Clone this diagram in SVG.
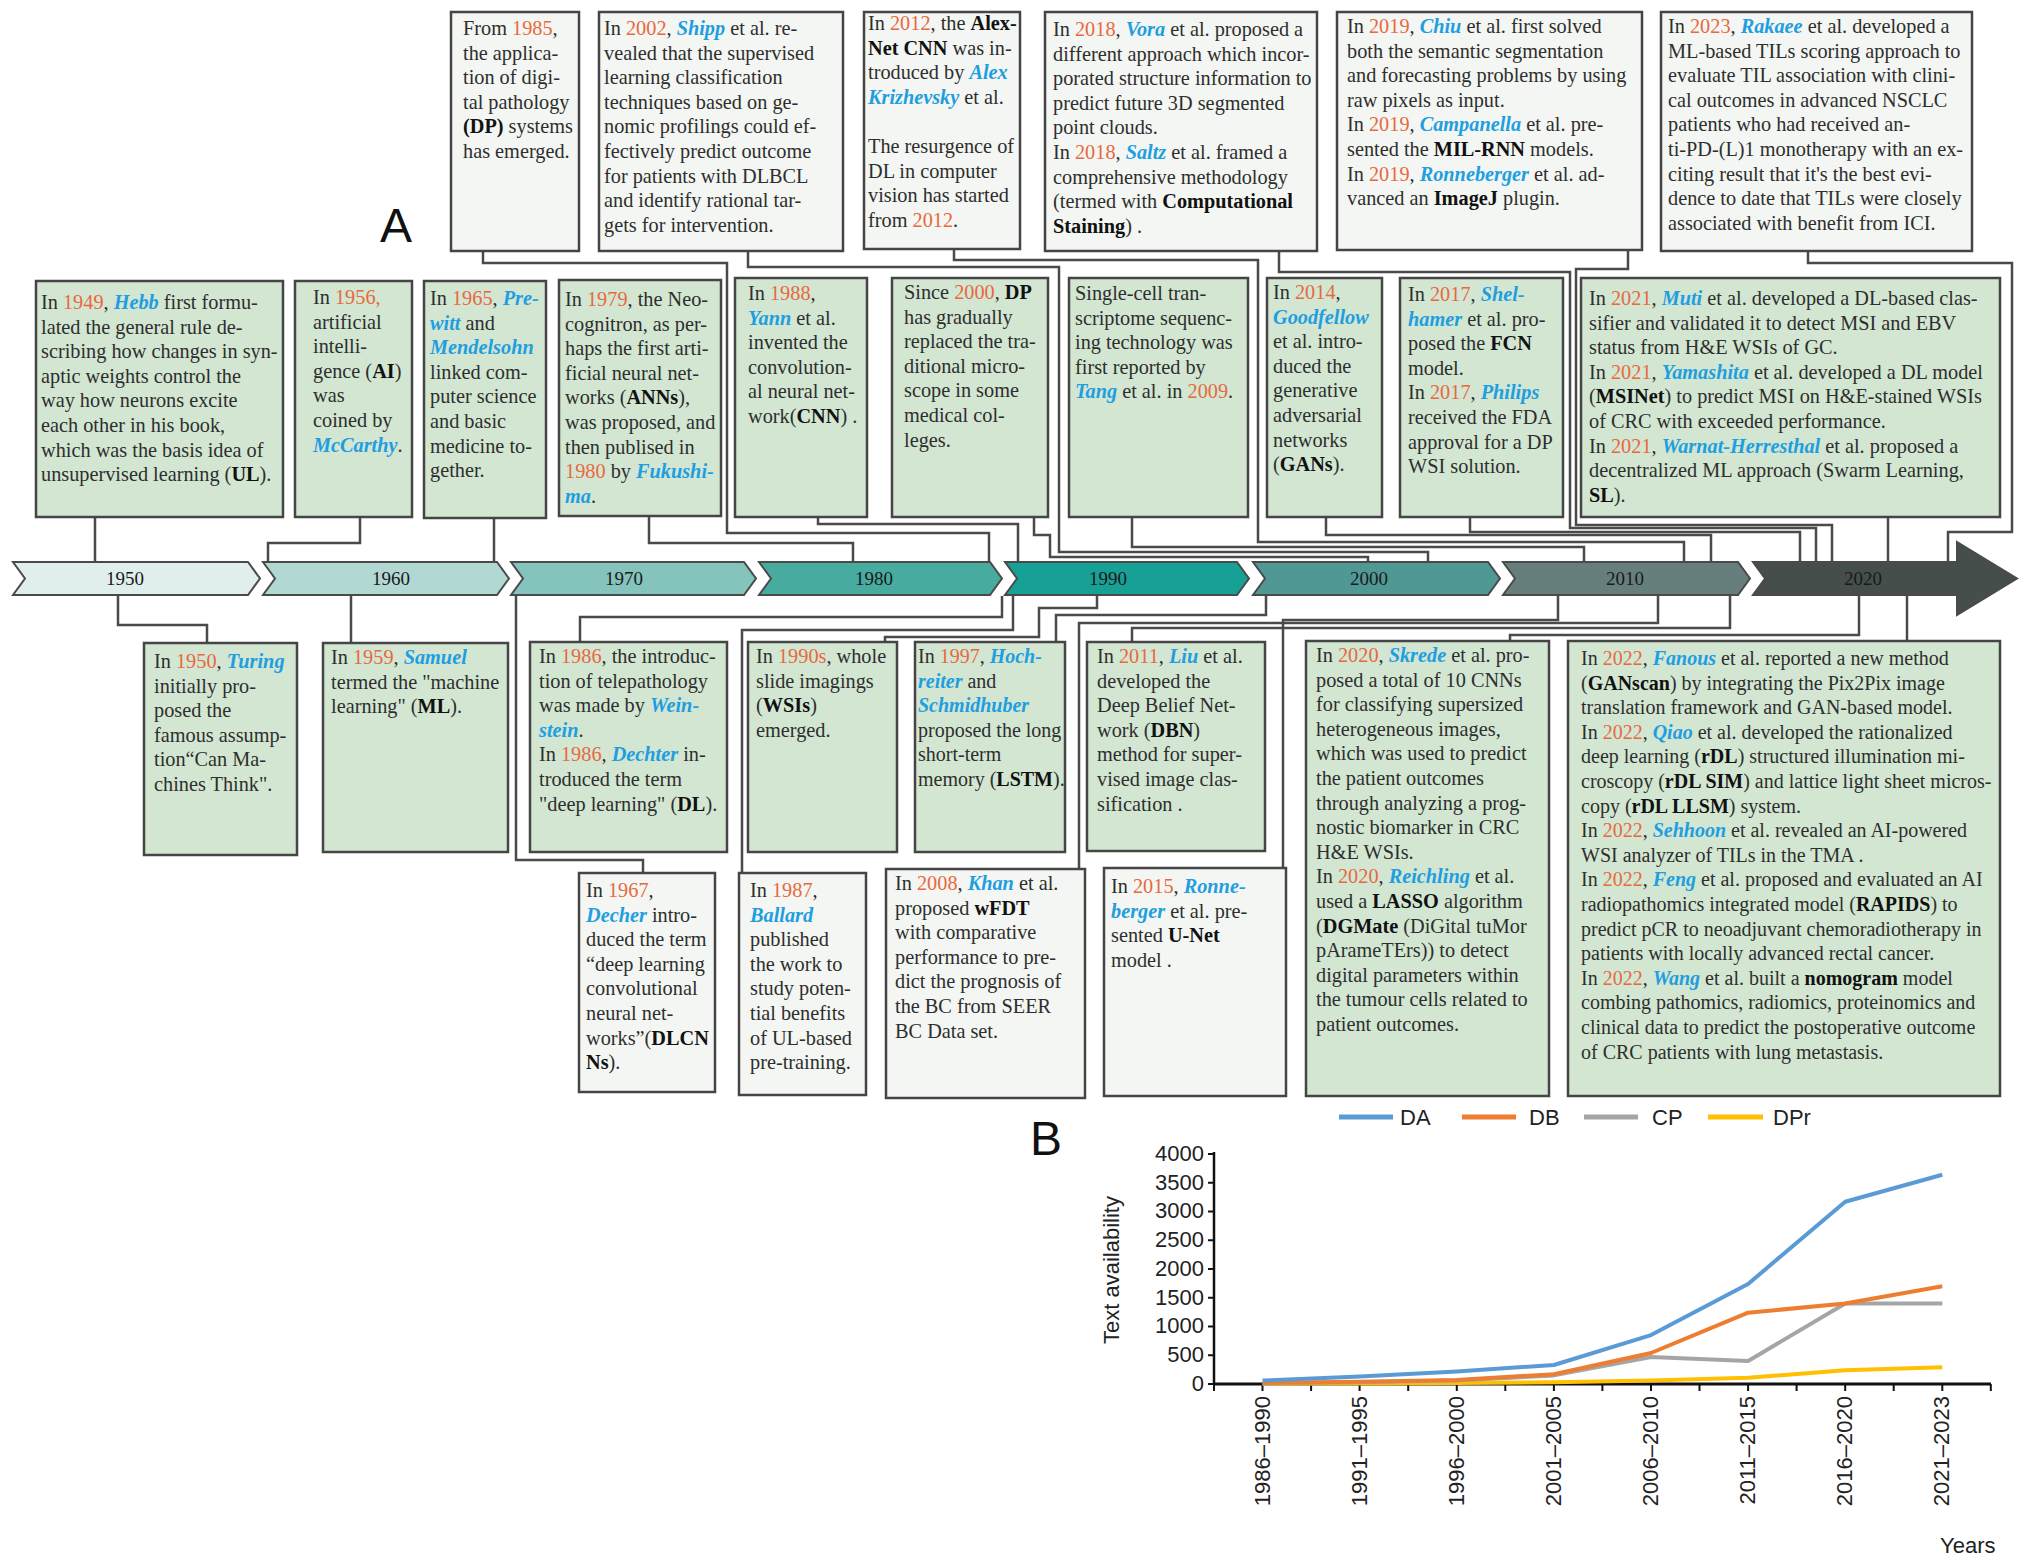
<svg xmlns="http://www.w3.org/2000/svg" width="2032" height="1565" viewBox="0 0 2032 1565">
<style>
.bx1{fill:#f3f6f2;stroke:#454545;stroke-width:2.5}
.bx2{fill:#d2e6d2;stroke:#454545;stroke-width:2.5}
.t{font-family:"Liberation Serif","Times New Roman",serif;font-size:20.3px;fill:#2e2e2e}
.s20{font-size:20px}
.y{fill:#e8693f}
.n{fill:#1f9ee0;font-style:italic;font-weight:bold}
.b{font-weight:bold;fill:#111}
.cn{fill:none;stroke:#4a4a4a;stroke-width:2.5}
.chev{stroke:#4a4a4a;stroke-width:2}
.yr{font-family:"Liberation Serif","Times New Roman",serif;font-size:19px;fill:#1a1a1a;text-anchor:middle}
.ax{font-family:"Liberation Sans",Arial,sans-serif;font-size:22px;fill:#222}
.big{font-family:"Liberation Sans",Arial,sans-serif;font-size:48px;fill:#111}
.ln{fill:none;stroke-width:4;stroke-linejoin:round}
</style>
<rect width="2032" height="1565" fill="#ffffff"/>
<text class="big" x="380" y="242">A</text>

<g id="connectors">
<path class="cn" d="M483 251V263H727V533H989V561"/>
<path class="cn" d="M748 251V267H1059V552H1428V561"/>
<path class="cn" d="M954 249V260H1258V542H1684V561"/>
<path class="cn" d="M1279 251V272H1570V528H1816V561"/>
<path class="cn" d="M1628 250V269H1576V525H1832V561"/>
<path class="cn" d="M1808 251V263H2012V532H1948V561"/>
<path class="cn" d="M95 517V561"/>
<path class="cn" d="M360 517V543H268V561"/>
<path class="cn" d="M494 518V561"/>
<path class="cn" d="M649 516V543H853V561"/>
<path class="cn" d="M818 517V524H1018V561"/>
<path class="cn" d="M1034 517V535H1050V557H1368V561"/>
<path class="cn" d="M1132 517V547H1584V561"/>
<path class="cn" d="M1326 517V535H1711V561"/>
<path class="cn" d="M1470 517V532H1800V561"/>
<path class="cn" d="M1888 517V561"/>
<path class="cn" d="M118 596V625H207V643"/>
<path class="cn" d="M351 596V643"/>
<path class="cn" d="M516 596V860H643V873"/>
<path class="cn" d="M1002 596V617H580V642"/>
<path class="cn" d="M1013 596V630H742V873"/>
<path class="cn" d="M1097 596V608H1039V637H885V642"/>
<path class="cn" d="M1266 596V615H1056V642"/>
<path class="cn" d="M1658 596V623H1079V869"/>
<path class="cn" d="M1730 596V628H1132V642"/>
<path class="cn" d="M1558 596V620H1283V868"/>
<path class="cn" d="M1859 596V635H1510V641"/>
<path class="cn" d="M1907 596V641"/>
</g>

<g id="timeline">
<polygon class="chev" fill="#e0efee" points="13,562 248,562 260,578.5 248,595 13,595 25,578.5"/>
<polygon class="chev" fill="#b1d8d3" points="263,562 497,562 509,578.5 497,595 263,595 275,578.5"/>
<polygon class="chev" fill="#84c4bc" points="511,562 744,562 756,578.5 744,595 511,595 523,578.5"/>
<polygon class="chev" fill="#47aba0" points="759,562 990,562 1002,578.5 990,595 759,595 771,578.5"/>
<polygon class="chev" fill="#17a096" points="1005,562 1237,562 1249,578.5 1237,595 1005,595 1017,578.5"/>
<polygon class="chev" fill="#4f9894" points="1253,562 1488,562 1500,578.5 1488,595 1253,595 1265,578.5"/>
<polygon class="chev" fill="#677f7c" points="1503,562 1738,562 1750,578.5 1738,595 1503,595 1515,578.5"/>
<polygon class="chev" fill="#454e4b" points="1753,562 1957,562 1957,542 2017,578.5 1957,615 1957,595 1753,595 1765,578.5"/>
<text class="yr" x="125" y="585">1950</text>
<text class="yr" x="391" y="585">1960</text>
<text class="yr" x="624" y="585">1970</text>
<text class="yr" x="874" y="585">1980</text>
<text class="yr" x="1108" y="585">1990</text>
<text class="yr" x="1369" y="585">2000</text>
<text class="yr" x="1625" y="585">2010</text>
<text class="yr" x="1863" y="585">2020</text>
</g>

<g id="n1985"><rect class="bx1" x="451" y="12" width="128" height="239"/>
<text class="t" y="35"><tspan x="463">From <tspan class="y">1985</tspan>,</tspan><tspan x="463" dy="24.6">the applica-</tspan><tspan x="463" dy="24.6">tion of digi-</tspan><tspan x="463" dy="24.6">tal pathology</tspan><tspan x="463" dy="24.6"><tspan class="b">(DP)</tspan> systems</tspan><tspan x="463" dy="24.6">has emerged.</tspan></text></g>

<g id="n2002"><rect class="bx1" x="599" y="12" width="244" height="239"/>
<text class="t" y="35"><tspan x="604">In <tspan class="y">2002</tspan>, <tspan class="n">Shipp</tspan> et al. re-</tspan><tspan x="604" dy="24.6">vealed that the supervised</tspan><tspan x="604" dy="24.6">learning classification</tspan><tspan x="604" dy="24.6">techniques based on ge-</tspan><tspan x="604" dy="24.6">nomic profilings could ef-</tspan><tspan x="604" dy="24.6">fectively predict outcome</tspan><tspan x="604" dy="24.6">for patients with DLBCL</tspan><tspan x="604" dy="24.6">and identify rational tar-</tspan><tspan x="604" dy="24.6">gets for intervention.</tspan></text></g>

<g id="n2012"><rect class="bx1" x="864" y="12" width="156" height="237"/>
<text class="t" y="30"><tspan x="868">In <tspan class="y">2012</tspan>, the <tspan class="b">Alex-</tspan></tspan><tspan x="868" dy="24.6"><tspan class="b">Net CNN</tspan> was in-</tspan><tspan x="868" dy="24.6">troduced by <tspan class="n">Alex</tspan></tspan><tspan x="868" dy="24.6"><tspan class="n">Krizhevsky</tspan>  et al.</tspan><tspan x="868" dy="49.2">The resurgence of</tspan><tspan x="868" dy="24.6">DL in computer</tspan><tspan x="868" dy="24.6">vision has started</tspan><tspan x="868" dy="24.6">from <tspan class="y">2012</tspan>.</tspan></text></g>

<g id="n2018"><rect class="bx1" x="1045" y="12" width="272" height="239"/>
<text class="t" y="36"><tspan x="1053">In <tspan class="y">2018</tspan>, <tspan class="n">Vora</tspan> et al. proposed a</tspan><tspan x="1053" dy="24.6">different approach which incor-</tspan><tspan x="1053" dy="24.6">porated structure information to</tspan><tspan x="1053" dy="24.6">predict future 3D segmented</tspan><tspan x="1053" dy="24.6">point clouds.</tspan><tspan x="1053" dy="24.6">In <tspan class="y">2018</tspan>, <tspan class="n">Saltz</tspan> et al. framed a</tspan><tspan x="1053" dy="24.6">comprehensive methodology</tspan><tspan x="1053" dy="24.6">(termed with <tspan class="b">Computational</tspan></tspan><tspan x="1053" dy="24.6"><tspan class="b">Staining</tspan>) .</tspan></text></g>

<g id="n2019"><rect class="bx1" x="1337" y="12" width="305" height="238"/>
<text class="t" y="33"><tspan x="1347">In <tspan class="y">2019</tspan>, <tspan class="n">Chiu</tspan> et al. first solved</tspan><tspan x="1347" dy="24.6">both the semantic segmentation</tspan><tspan x="1347" dy="24.6">and forecasting problems by using</tspan><tspan x="1347" dy="24.6">raw pixels as input.</tspan><tspan x="1347" dy="24.6">In <tspan class="y">2019</tspan>, <tspan class="n">Campanella</tspan> et al. pre-</tspan><tspan x="1347" dy="24.6">sented the <tspan class="b">MIL-RNN</tspan> models.</tspan><tspan x="1347" dy="24.6">In <tspan class="y">2019</tspan>, <tspan class="n">Ronneberger</tspan> et al. ad-</tspan><tspan x="1347" dy="24.6">vanced an <tspan class="b">ImageJ</tspan> plugin.</tspan></text></g>

<g id="n2023"><rect class="bx1" x="1661" y="12" width="311" height="239"/>
<text class="t" y="33"><tspan x="1668">In <tspan class="y">2023</tspan>, <tspan class="n">Rakaee</tspan> et al. developed a</tspan><tspan x="1668" dy="24.6">ML-based TILs scoring approach to</tspan><tspan x="1668" dy="24.6">evaluate TIL association with clini-</tspan><tspan x="1668" dy="24.6">cal outcomes in advanced NSCLC</tspan><tspan x="1668" dy="24.6">patients who had received an-</tspan><tspan x="1668" dy="24.6">ti-PD-(L)1 monotherapy with an ex-</tspan><tspan x="1668" dy="24.6">citing result that it's the best evi-</tspan><tspan x="1668" dy="24.6">dence to date that TILs were closely</tspan><tspan x="1668" dy="24.6">associated with benefit from ICI.</tspan></text></g>

<g id="n1949"><rect class="bx2" x="36" y="281" width="247" height="236"/>
<text class="t" y="309"><tspan x="41">In <tspan class="y">1949</tspan>,  <tspan class="n">Hebb</tspan> first formu-</tspan><tspan x="41" dy="24.6">lated the general rule de-</tspan><tspan x="41" dy="24.6">scribing how changes in syn-</tspan><tspan x="41" dy="24.6">aptic weights control the</tspan><tspan x="41" dy="24.6">way how neurons excite</tspan><tspan x="41" dy="24.6">each other in his book,</tspan><tspan x="41" dy="24.6">which was the basis idea of</tspan><tspan x="41" dy="24.6">unsupervised learning (<tspan class="b">UL</tspan>).</tspan></text></g>

<g id="n1956"><rect class="bx2" x="295" y="281" width="117" height="236"/>
<text class="t" y="304"><tspan x="313">In <tspan class="y">1956,</tspan></tspan><tspan x="313" dy="24.6">artificial</tspan><tspan x="313" dy="24.6">intelli-</tspan><tspan x="313" dy="24.6">gence (<tspan class="b">AI</tspan>)</tspan><tspan x="313" dy="24.6">was</tspan><tspan x="313" dy="24.6">coined by</tspan><tspan x="313" dy="24.6"><tspan class="n">McCarthy</tspan>.</tspan></text></g>

<g id="n1965"><rect class="bx2" x="424" y="281" width="122" height="237"/>
<text class="t" y="305"><tspan x="430">In <tspan class="y">1965</tspan>, <tspan class="n">Pre-</tspan></tspan><tspan x="430" dy="24.6"><tspan class="n">witt</tspan> and</tspan><tspan x="430" dy="24.6"><tspan class="n">Mendelsohn</tspan></tspan><tspan x="430" dy="24.6">linked com-</tspan><tspan x="430" dy="24.6">puter science</tspan><tspan x="430" dy="24.6">and basic</tspan><tspan x="430" dy="24.6">medicine to-</tspan><tspan x="430" dy="24.6">gether.</tspan></text></g>

<g id="n1979"><rect class="bx2" x="559" y="280" width="162" height="236"/>
<text class="t" y="306"><tspan x="565">In <tspan class="y">1979</tspan>, the Neo-</tspan><tspan x="565" dy="24.6">cognitron, as per-</tspan><tspan x="565" dy="24.6">haps the first arti-</tspan><tspan x="565" dy="24.6">ficial neural net-</tspan><tspan x="565" dy="24.6">works (<tspan class="b">ANNs</tspan>),</tspan><tspan x="565" dy="24.6">was proposed, and</tspan><tspan x="565" dy="24.6">then publised in</tspan><tspan x="565" dy="24.6"><tspan class="y">1980</tspan> by <tspan class="n">Fukushi-</tspan></tspan><tspan x="565" dy="24.6"><tspan class="n">ma</tspan>.</tspan></text></g>

<g id="n1988"><rect class="bx2" x="735" y="278" width="132" height="239"/>
<text class="t" y="300"><tspan x="748">In <tspan class="y">1988</tspan>,</tspan><tspan x="748" dy="24.6"><tspan class="n">Yann</tspan>  et al.</tspan><tspan x="748" dy="24.6">invented the</tspan><tspan x="748" dy="24.6">convolution-</tspan><tspan x="748" dy="24.6">al neural net-</tspan><tspan x="748" dy="24.6">work(<tspan class="b">CNN</tspan>) .</tspan></text></g>

<g id="n2000"><rect class="bx2" x="892" y="278" width="156" height="239"/>
<text class="t" y="299"><tspan x="904">Since <tspan class="y">2000</tspan>, <tspan class="b">DP</tspan></tspan><tspan x="904" dy="24.6">has gradually</tspan><tspan x="904" dy="24.6">replaced the tra-</tspan><tspan x="904" dy="24.6">ditional micro-</tspan><tspan x="904" dy="24.6">scope in some</tspan><tspan x="904" dy="24.6">medical col-</tspan><tspan x="904" dy="24.6">leges.</tspan></text></g>

<g id="n2009"><rect class="bx2" x="1069" y="278" width="179" height="239"/>
<text class="t" y="300"><tspan x="1075">Single-cell tran-</tspan><tspan x="1075" dy="24.6">scriptome sequenc-</tspan><tspan x="1075" dy="24.6">ing technology was</tspan><tspan x="1075" dy="24.6">first reported by</tspan><tspan x="1075" dy="24.6"><tspan class="n">Tang</tspan> et al. in <tspan class="y">2009</tspan>.</tspan></text></g>

<g id="n2014"><rect class="bx2" x="1267" y="278" width="115" height="239"/>
<text class="t" y="299"><tspan x="1273">In <tspan class="y">2014</tspan>,</tspan><tspan x="1273" dy="24.6"><tspan class="n">Goodfellow</tspan></tspan><tspan x="1273" dy="24.6">et al. intro-</tspan><tspan x="1273" dy="24.6">duced the</tspan><tspan x="1273" dy="24.6">generative</tspan><tspan x="1273" dy="24.6">adversarial</tspan><tspan x="1273" dy="24.6">networks</tspan><tspan x="1273" dy="24.6">(<tspan class="b">GANs</tspan>).</tspan></text></g>

<g id="n2017"><rect class="bx2" x="1400" y="278" width="163" height="239"/>
<text class="t" y="301"><tspan x="1408">In <tspan class="y">2017</tspan>, <tspan class="n">Shel-</tspan></tspan><tspan x="1408" dy="24.6"><tspan class="n">hamer</tspan>  et al. pro-</tspan><tspan x="1408" dy="24.6">posed the <tspan class="b">FCN</tspan></tspan><tspan x="1408" dy="24.6">model.</tspan><tspan x="1408" dy="24.6">In <tspan class="y">2017</tspan>, <tspan class="n">Philips</tspan></tspan><tspan x="1408" dy="24.6">received the FDA</tspan><tspan x="1408" dy="24.6">approval for a DP</tspan><tspan x="1408" dy="24.6">WSI solution.</tspan></text></g>

<g id="n2021"><rect class="bx2" x="1581" y="278" width="419" height="239"/>
<text class="t" y="305"><tspan x="1589">In <tspan class="y">2021</tspan>, <tspan class="n">Muti</tspan> et al. developed a DL-based clas-</tspan><tspan x="1589" dy="24.6">sifier and validated it to detect MSI and EBV</tspan><tspan x="1589" dy="24.6">status from H&amp;E WSIs of GC.</tspan><tspan x="1589" dy="24.6">In <tspan class="y">2021</tspan>, <tspan class="n">Yamashita</tspan> et al. developed a DL model</tspan><tspan x="1589" dy="24.6">(<tspan class="b">MSINet</tspan>) to predict MSI on H&amp;E-stained WSIs</tspan><tspan x="1589" dy="24.6">of CRC with exceeded performance.</tspan><tspan x="1589" dy="24.6">In <tspan class="y">2021</tspan>, <tspan class="n">Warnat-Herresthal</tspan> et al. proposed a</tspan><tspan x="1589" dy="24.6">decentralized ML approach (Swarm Learning,</tspan><tspan x="1589" dy="24.6"><tspan class="b">SL</tspan>).</tspan></text></g>

<g id="n1950"><rect class="bx2" x="144" y="643" width="153" height="212"/>
<text class="t" y="668"><tspan x="154">In <tspan class="y">1950</tspan>, <tspan class="n">Turing</tspan></tspan><tspan x="154" dy="24.6">initially pro-</tspan><tspan x="154" dy="24.6">posed the</tspan><tspan x="154" dy="24.6">famous assump-</tspan><tspan x="154" dy="24.6">tion“Can Ma-</tspan><tspan x="154" dy="24.6">chines Think".</tspan></text></g>

<g id="n1959"><rect class="bx2" x="323" y="643" width="185" height="209"/>
<text class="t" y="664"><tspan x="331">In <tspan class="y">1959</tspan>, <tspan class="n">Samuel</tspan></tspan><tspan x="331" dy="24.6">termed the "machine</tspan><tspan x="331" dy="24.6">learning" (<tspan class="b">ML</tspan>).</tspan></text></g>

<g id="n1986"><rect class="bx2" x="530" y="642" width="197" height="210"/>
<text class="t" y="663"><tspan x="539">In <tspan class="y">1986</tspan>, the introduc-</tspan><tspan x="539" dy="24.6">tion of telepathology</tspan><tspan x="539" dy="24.6">was made by <tspan class="n">Wein-</tspan></tspan><tspan x="539" dy="24.6"><tspan class="n">stein</tspan>.</tspan><tspan x="539" dy="24.6">In <tspan class="y">1986</tspan>, <tspan class="n">Dechter</tspan> in-</tspan><tspan x="539" dy="24.6">troduced the term</tspan><tspan x="539" dy="24.6">"deep learning" (<tspan class="b">DL</tspan>).</tspan></text></g>

<g id="n1990s"><rect class="bx2" x="748" y="642" width="149" height="210"/>
<text class="t" y="663"><tspan x="756">In <tspan class="y">1990s</tspan>, whole</tspan><tspan x="756" dy="24.6">slide imagings</tspan><tspan x="756" dy="24.6">(<tspan class="b">WSIs</tspan>)</tspan><tspan x="756" dy="24.6">emerged.</tspan></text></g>

<g id="n1997"><rect class="bx2" x="915" y="642" width="150" height="210"/>
<text class="t s20" y="663"><tspan x="918">In <tspan class="y">1997</tspan>, <tspan class="n">Hoch-</tspan></tspan><tspan x="918" dy="24.6"><tspan class="n">reiter</tspan> and</tspan><tspan x="918" dy="24.6"><tspan class="n">Schmidhuber</tspan></tspan><tspan x="918" dy="24.6">proposed the long</tspan><tspan x="918" dy="24.6">short-term</tspan><tspan x="918" dy="24.6">memory (<tspan class="b">LSTM</tspan>).</tspan></text></g>

<g id="n2011"><rect class="bx2" x="1087" y="642" width="178" height="209"/>
<text class="t" y="663"><tspan x="1097">In <tspan class="y">2011</tspan>, <tspan class="n">Liu</tspan> et al.</tspan><tspan x="1097" dy="24.6">developed the</tspan><tspan x="1097" dy="24.6">Deep Belief Net-</tspan><tspan x="1097" dy="24.6">work (<tspan class="b">DBN</tspan>)</tspan><tspan x="1097" dy="24.6">method for super-</tspan><tspan x="1097" dy="24.6">vised image clas-</tspan><tspan x="1097" dy="24.6">sification .</tspan></text></g>

<g id="n2020"><rect class="bx2" x="1306" y="641" width="243" height="455"/>
<text class="t" y="662"><tspan x="1316">In <tspan class="y">2020</tspan>, <tspan class="n">Skrede</tspan> et al. pro-</tspan><tspan x="1316" dy="24.6">posed a total of 10 CNNs</tspan><tspan x="1316" dy="24.6">for classifying supersized</tspan><tspan x="1316" dy="24.6">heterogeneous images,</tspan><tspan x="1316" dy="24.6">which was used to predict</tspan><tspan x="1316" dy="24.6">the patient outcomes</tspan><tspan x="1316" dy="24.6">through analyzing a prog-</tspan><tspan x="1316" dy="24.6">nostic biomarker in CRC</tspan><tspan x="1316" dy="24.6">H&amp;E WSIs.</tspan><tspan x="1316" dy="24.6">In <tspan class="y">2020</tspan>, <tspan class="n">Reichling</tspan> et al.</tspan><tspan x="1316" dy="24.6">used a <tspan class="b">LASSO</tspan> algorithm</tspan><tspan x="1316" dy="24.6">(<tspan class="b">DGMate</tspan> (DiGital tuMor</tspan><tspan x="1316" dy="24.6">pArameTErs)) to detect</tspan><tspan x="1316" dy="24.6">digital parameters within</tspan><tspan x="1316" dy="24.6">the tumour cells related to</tspan><tspan x="1316" dy="24.6">patient outcomes.</tspan></text></g>

<g id="n2022"><rect class="bx2" x="1568" y="641" width="432" height="455"/>
<text class="t s20" y="665"><tspan x="1581">In <tspan class="y">2022</tspan>, <tspan class="n">Fanous</tspan> et al. reported  a new method</tspan><tspan x="1581" dy="24.6">(<tspan class="b">GANscan</tspan>) by integrating the Pix2Pix image</tspan><tspan x="1581" dy="24.6">translation framework and GAN-based model.</tspan><tspan x="1581" dy="24.6">In <tspan class="y">2022</tspan>,  <tspan class="n">Qiao</tspan> et al. developed the rationalized</tspan><tspan x="1581" dy="24.6">deep learning (<tspan class="b">rDL</tspan>) structured illumination mi-</tspan><tspan x="1581" dy="24.6">croscopy (<tspan class="b">rDL SIM</tspan>) and lattice light sheet micros-</tspan><tspan x="1581" dy="24.6">copy (<tspan class="b">rDL LLSM</tspan>) system.</tspan><tspan x="1581" dy="24.6">In <tspan class="y">2022</tspan>, <tspan class="n">Sehhoon</tspan> et al. revealed an AI-powered</tspan><tspan x="1581" dy="24.6">WSI analyzer of TILs in the TMA .</tspan><tspan x="1581" dy="24.6">In <tspan class="y">2022</tspan>, <tspan class="n">Feng</tspan> et al. proposed and evaluated an AI</tspan><tspan x="1581" dy="24.6">radiopathomics integrated model (<tspan class="b">RAPIDS</tspan>) to</tspan><tspan x="1581" dy="24.6">predict pCR to neoadjuvant chemoradiotherapy in</tspan><tspan x="1581" dy="24.6">patients with locally advanced rectal cancer.</tspan><tspan x="1581" dy="24.6">In <tspan class="y">2022</tspan>, <tspan class="n">Wang</tspan> et al.  built a <tspan class="b">nomogram</tspan> model</tspan><tspan x="1581" dy="24.6">combing pathomics, radiomics, proteinomics and</tspan><tspan x="1581" dy="24.6">clinical data to predict the postoperative outcome</tspan><tspan x="1581" dy="24.6">of CRC patients with lung metastasis.</tspan></text></g>

<g id="n1967"><rect class="bx1" x="579" y="873" width="136" height="219"/>
<text class="t" y="897"><tspan x="586">In <tspan class="y">1967</tspan>,</tspan><tspan x="586" dy="24.6"><tspan class="n">Decher</tspan> intro-</tspan><tspan x="586" dy="24.6">duced the term</tspan><tspan x="586" dy="24.6">“deep learning</tspan><tspan x="586" dy="24.6">convolutional</tspan><tspan x="586" dy="24.6">neural net-</tspan><tspan x="586" dy="24.6">works”(<tspan class="b">DLCN</tspan></tspan><tspan x="586" dy="24.6"><tspan class="b">Ns</tspan>).</tspan></text></g>

<g id="n1987"><rect class="bx1" x="739" y="873" width="127" height="222"/>
<text class="t" y="897"><tspan x="750">In <tspan class="y">1987</tspan>,</tspan><tspan x="750" dy="24.6"><tspan class="n">Ballard</tspan></tspan><tspan x="750" dy="24.6">published</tspan><tspan x="750" dy="24.6">the work to</tspan><tspan x="750" dy="24.6">study poten-</tspan><tspan x="750" dy="24.6">tial benefits</tspan><tspan x="750" dy="24.6">of UL-based</tspan><tspan x="750" dy="24.6">pre-training.</tspan></text></g>

<g id="n2008"><rect class="bx1" x="886" y="869" width="199" height="229"/>
<text class="t" y="890"><tspan x="895">In <tspan class="y">2008</tspan>, <tspan class="n">Khan</tspan> et al.</tspan><tspan x="895" dy="24.6">proposed <tspan class="b">wFDT</tspan></tspan><tspan x="895" dy="24.6">with comparative</tspan><tspan x="895" dy="24.6">performance to pre-</tspan><tspan x="895" dy="24.6">dict the prognosis of</tspan><tspan x="895" dy="24.6">the BC from SEER</tspan><tspan x="895" dy="24.6">BC Data set.</tspan></text></g>

<g id="n2015"><rect class="bx1" x="1104" y="868" width="182" height="228"/>
<text class="t" y="893"><tspan x="1111">In <tspan class="y">2015</tspan>, <tspan class="n">Ronne-</tspan></tspan><tspan x="1111" dy="24.6"><tspan class="n">berger</tspan> et al.  pre-</tspan><tspan x="1111" dy="24.6">sented <tspan class="b">U-Net</tspan></tspan><tspan x="1111" dy="24.6">model .</tspan></text></g>

<g id="chart">
<text class="big" x="1030" y="1155">B</text>
<line x1="1339" y1="1117" x2="1393" y2="1117" stroke="#5b9bd5" stroke-width="5"/>
<text class="ax" x="1400" y="1125">DA</text>
<line x1="1462" y1="1117" x2="1516" y2="1117" stroke="#ed7d31" stroke-width="5"/>
<text class="ax" x="1529" y="1125">DB</text>
<line x1="1584" y1="1117" x2="1638" y2="1117" stroke="#a5a5a5" stroke-width="5"/>
<text class="ax" x="1652" y="1125">CP</text>
<line x1="1708" y1="1117" x2="1763" y2="1117" stroke="#ffc000" stroke-width="5"/>
<text class="ax" x="1773" y="1125">DPr</text>
<text class="ax" text-anchor="middle" transform="translate(1119,1270) rotate(-90)">Text availability</text>
<g class="ax" text-anchor="end">
<text x="1204" y="1391">0</text>
<text x="1204" y="1362">500</text>
<text x="1204" y="1333">1000</text>
<text x="1204" y="1305">1500</text>
<text x="1204" y="1276">2000</text>
<text x="1204" y="1247">2500</text>
<text x="1204" y="1218">3000</text>
<text x="1204" y="1190">3500</text>
<text x="1204" y="1161">4000</text>
</g>
<path d="M1208 1384H1214M1208 1355.25H1214M1208 1326.5H1214M1208 1297.75H1214M1208 1269H1214M1208 1240.25H1214M1208 1211.5H1214M1208 1182.75H1214M1208 1154H1214" stroke="#111" stroke-width="2"/>
<line x1="1214" y1="1152" x2="1214" y2="1385" stroke="#111" stroke-width="2.5"/>
<line x1="1213" y1="1384" x2="1991" y2="1384" stroke="#111" stroke-width="3"/>
<path d="M1214 1384v7M1262.5 1384v7M1311.1 1384v7M1359.6 1384v7M1408.2 1384v7M1456.8 1384v7M1505.3 1384v7M1553.9 1384v7M1602.4 1384v7M1651 1384v7M1699.5 1384v7M1748.1 1384v7M1796.6 1384v7M1845.2 1384v7M1893.7 1384v7M1942.3 1384v7M1990.8 1384v7" stroke="#111" stroke-width="2"/>
<g class="ax" text-anchor="end">
<text transform="translate(1270,1396) rotate(-90)">1986–1990</text>
<text transform="translate(1367,1396) rotate(-90)">1991–1995</text>
<text transform="translate(1464,1396) rotate(-90)">1996–2000</text>
<text transform="translate(1561,1396) rotate(-90)">2001–2005</text>
<text transform="translate(1658,1396) rotate(-90)">2006–2010</text>
<text transform="translate(1755,1396) rotate(-90)">2011–2015</text>
<text transform="translate(1852,1396) rotate(-90)">2016–2020</text>
<text transform="translate(1949,1396) rotate(-90)">2021–2023</text>
</g>
<text class="ax" x="1940" y="1553">Years</text>
<polyline class="ln" stroke="#ffc000" points="1262.6,1383.7 1359.7,1383.4 1456.8,1382.9 1553.9,1382.3 1651,1380.6 1748.1,1377.7 1845.2,1370.2 1942.3,1367.3"/>
<polyline class="ln" stroke="#a5a5a5" points="1262.6,1383.4 1359.7,1382.3 1456.8,1380.6 1553.9,1375.4 1651,1357 1748.1,1361 1845.2,1303.5 1942.3,1303.5"/>
<polyline class="ln" stroke="#ed7d31" points="1262.6,1382.9 1359.7,1381.7 1456.8,1380 1553.9,1374.2 1651,1353 1748.1,1312.7 1845.2,1303.5 1942.3,1286.3"/>
<polyline class="ln" stroke="#5b9bd5" points="1262.6,1380.6 1359.7,1376.5 1456.8,1371.4 1553.9,1365 1651,1335.1 1748.1,1284 1845.2,1201.7 1942.3,1174.7"/>
</g>
</svg>
